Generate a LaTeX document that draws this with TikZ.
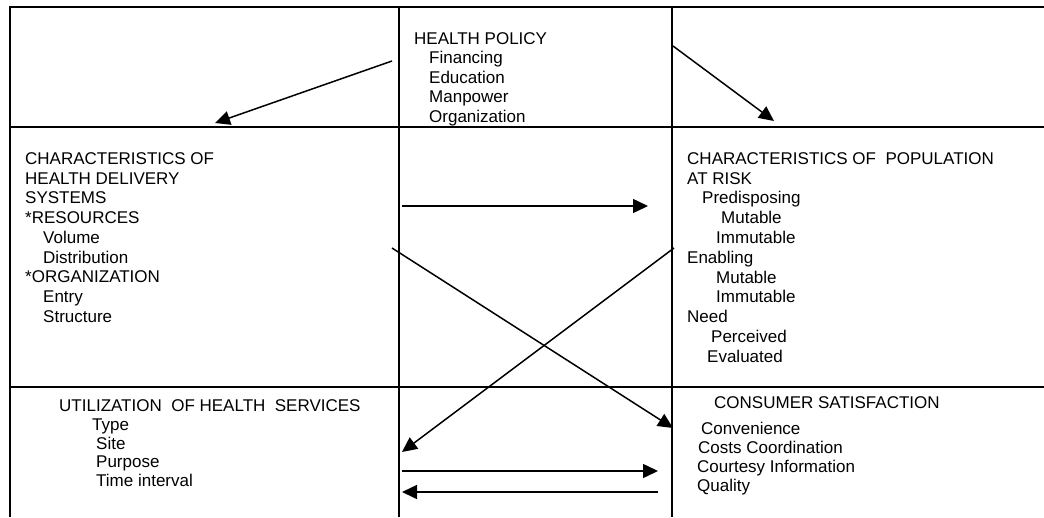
\documentclass[tikz,border=0pt]{standalone}
\usepackage{fontspec}
\setmainfont{Liberation Sans}
\usepackage{tikz}
\usetikzlibrary{arrows.meta}

\tikzset{
  item/.style={anchor=base west, inner sep=0pt, font=\fontsize{17}{20}\selectfont},
  rule/.style={line width=2pt},
  arr/.style={line width=1.5pt, -{Triangle[length=15pt,width=14pt]}}
}

\begin{document}
\begin{tikzpicture}[x=1pt, y=-1pt]
  \useasboundingbox (0,0) rectangle (1044,517);
  % Table lines
  \draw[rule] (10,517) -- (10,7);
  \foreach \y in {7, 127, 387} {
    \draw[rule] (9,\y) -- (1044,\y);
  }
  \foreach \x in {399, 672} {
    \draw[rule] (\x,7) -- (\x,517);
  }
  % Health policy
  \foreach \dx/\txt [count=\i from 0] in {0/HEALTH POLICY, 15/Financing, 15/Education, 15/Manpower, 15/Organization} {
    \node[item] (pol-\i) at (414+\dx, 44+19.5*\i) {\txt};
  }
  % Health delivery systems
  \foreach \dx/\txt [count=\i from 0] in {0/CHARACTERISTICS OF, 0/HEALTH DELIVERY, 0/SYSTEMS, 0/*RESOURCES, 18/Volume, 18/Distribution, 0/*ORGANIZATION, 18/Entry, 18/Structure} {
    \node[item] (hds-\i) at (25+\dx, 164.3+19.75*\i) {\txt};
  }
  % Population at risk
  \foreach \dx/\txt [count=\i from 0] in {0/CHARACTERISTICS OF\ \ POPULATION, 0/AT RISK, 15/Predisposing, 34/Mutable, 29/Immutable, 0/Enabling, 29/Mutable, 29/Immutable, 0/Need, 24/Perceived, 20/Evaluated} {
    \node[item] (par-\i) at (687+\dx, 164.3+19.8*\i) {\txt};
  }
  % Utilization
  \node[item] (uhs-0) at (59,411.7) {UTILIZATION\ \ OF HEALTH\ \ SERVICES};
  \foreach \dx/\txt [count=\i from 1] in {92/Type, 96/Site, 96/Purpose, 96/Time interval} {
    \node[item] (uhs-\i) at (\dx, 411.7+18.75*\i) {\txt};
  }
  % Consumer satisfaction
  \node[item] (cs-0) at (714,408.8) {CONSUMER SATISFACTION};
  \foreach \dx/\txt [count=\i from 0] in {701/Convenience, 698/Costs Coordination, 697/Courtesy Information, 697/Quality} {
    \node[item] (cs-\i) at (\dx, 434.6+19*\i) {\txt};
  }
  % Arrow ends
  \coordinate (polL) at (392,61);
  \coordinate (hdsTop) at (215,123);
  \coordinate (polR) at (673,46);
  \coordinate (parTop) at (774,121);
  \coordinate (hdsR) at (402,206);
  \coordinate (parL) at (648,206);
  \coordinate (hdsX) at (392,248);
  \coordinate (csTip) at (673,428);
  \coordinate (parX) at (674,248);
  \coordinate (uhsTip) at (402,452);
  \coordinate (uhsA) at (402,471);
  \coordinate (csA) at (658,471);
  \coordinate (csB) at (658,492);
  \coordinate (uhsB) at (402,492);
  % Arrows
  \draw[arr] (polL) -- (hdsTop);
  \draw[arr] (polR) -- (parTop);
  \draw[arr] (hdsR) -- (parL);
  \draw[arr] (hdsX) -- (csTip);
  \draw[arr] (parX) -- (uhsTip);
  \draw[arr] (uhsA) -- (csA);
  \draw[arr] (csB) -- (uhsB);
\end{tikzpicture}
\end{document}
